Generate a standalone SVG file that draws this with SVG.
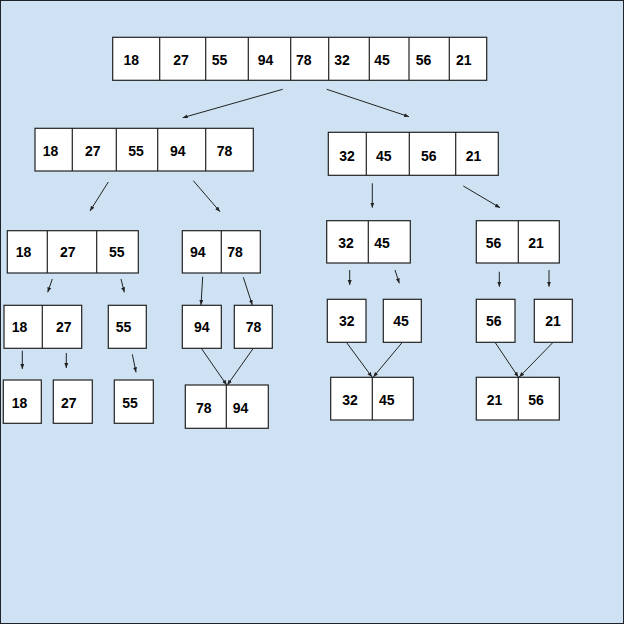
<svg xmlns="http://www.w3.org/2000/svg" width="624" height="624" viewBox="0 0 624 624">
<style>
.box{fill:#ffffff;stroke:#222222;stroke-width:1.2}
.div{stroke:#222222;stroke-width:1.2}
.t{font-family:"Liberation Sans",Arial,sans-serif;font-weight:bold;font-size:14px;fill:#000000}
.c{stroke:#222222;stroke-width:1;fill:none;marker-end:url(#ah)}
</style>
<defs>
<marker id="ah" markerUnits="userSpaceOnUse" markerWidth="6" markerHeight="5" refX="5" refY="2" orient="auto">
<path d="M0,0 L5,2 L0,4 z" fill="#222222"/>
</marker>
</defs>
<rect x="0.5" y="0.5" width="623" height="623" fill="#cfe2f3" stroke="#1f2226" stroke-width="1"/>

<g id="connectors">
<line class="c" x1="282.7" y1="89.3" x2="182.7" y2="117.7"/>
<line class="c" x1="326.7" y1="89.3" x2="409" y2="116.7"/>
<line class="c" x1="108.3" y1="182" x2="90" y2="211"/>
<line class="c" x1="193.3" y1="180.7" x2="220" y2="211.7"/>
<line class="c" x1="372.3" y1="183.3" x2="372.3" y2="207.7"/>
<line class="c" x1="463.3" y1="186" x2="500" y2="207.7"/>
<line class="c" x1="52.3" y1="279" x2="47.7" y2="292.3"/>
<line class="c" x1="121" y1="279" x2="124.3" y2="292.3"/>
<line class="c" x1="202.7" y1="276.7" x2="201" y2="305"/>
<line class="c" x1="243.3" y1="277.3" x2="252.3" y2="305"/>
<line class="c" x1="349.7" y1="270" x2="349.7" y2="285"/>
<line class="c" x1="395" y1="270" x2="399.3" y2="283.3"/>
<line class="c" x1="499.3" y1="271.7" x2="499.3" y2="286.7"/>
<line class="c" x1="549" y1="270" x2="549" y2="286.7"/>
<line class="c" x1="22.3" y1="350.7" x2="22.3" y2="369"/>
<line class="c" x1="66.3" y1="353" x2="66.3" y2="368"/>
<line class="c" x1="132.3" y1="354.3" x2="136" y2="372.3"/>
<line class="c" x1="201.3" y1="348.3" x2="226.7" y2="385"/>
<line class="c" x1="253.3" y1="348.3" x2="227.3" y2="385"/>
<line class="c" x1="346.7" y1="342.7" x2="372" y2="377"/>
<line class="c" x1="402" y1="342.7" x2="373.3" y2="377"/>
<line class="c" x1="495.3" y1="342.7" x2="518.3" y2="377"/>
<line class="c" x1="552.7" y1="342.7" x2="519.3" y2="377"/>
</g>

<g id="n_root">
<rect class="box" x="112.7" y="37.3" width="374" height="43"/>
<line class="div" x1="159.7" y1="37.3" x2="159.7" y2="80.3"/>
<line class="div" x1="205.7" y1="37.3" x2="205.7" y2="80.3"/>
<line class="div" x1="248.3" y1="37.3" x2="248.3" y2="80.3"/>
<line class="div" x1="290.7" y1="37.3" x2="290.7" y2="80.3"/>
<line class="div" x1="328.7" y1="37.3" x2="328.7" y2="80.3"/>
<line class="div" x1="369.3" y1="37.3" x2="369.3" y2="80.3"/>
<line class="div" x1="409" y1="37.3" x2="409" y2="80.3"/>
<line class="div" x1="449.3" y1="37.3" x2="449.3" y2="80.3"/>
<text class="t" x="123.5" y="65">18</text>
<text class="t" x="173.3" y="65">27</text>
<text class="t" x="211.7" y="65">55</text>
<text class="t" x="257.7" y="65">94</text>
<text class="t" x="296" y="65">78</text>
<text class="t" x="334.3" y="65">32</text>
<text class="t" x="374.3" y="65">45</text>
<text class="t" x="415.7" y="65">56</text>
<text class="t" x="456" y="65">21</text>
</g>

<g id="n_l">
<rect class="box" x="35" y="128.3" width="218.3" height="42.7"/>
<line class="div" x1="72.3" y1="128.3" x2="72.3" y2="171"/>
<line class="div" x1="116.3" y1="128.3" x2="116.3" y2="171"/>
<line class="div" x1="157.7" y1="128.3" x2="157.7" y2="171"/>
<line class="div" x1="205.7" y1="128.3" x2="205.7" y2="171"/>
<text class="t" x="42.7" y="155.5">18</text>
<text class="t" x="85" y="155.5">27</text>
<text class="t" x="128.3" y="155.5">55</text>
<text class="t" x="170" y="155.5">94</text>
<text class="t" x="216.7" y="155.5">78</text>
</g>

<g id="n_r">
<rect class="box" x="328.3" y="132.3" width="170" height="43"/>
<line class="div" x1="366.3" y1="132.3" x2="366.3" y2="175.3"/>
<line class="div" x1="409.3" y1="132.3" x2="409.3" y2="175.3"/>
<line class="div" x1="455.7" y1="132.3" x2="455.7" y2="175.3"/>
<text class="t" x="339.3" y="160.5">32</text>
<text class="t" x="376" y="160.5">45</text>
<text class="t" x="421" y="160.5">56</text>
<text class="t" x="465.7" y="160.5">21</text>
</g>

<g id="n_ll">
<rect class="box" x="7.3" y="230.7" width="131" height="42.3"/>
<line class="div" x1="47.3" y1="230.7" x2="47.3" y2="273"/>
<line class="div" x1="96.7" y1="230.7" x2="96.7" y2="273"/>
<text class="t" x="15.7" y="257.2">18</text>
<text class="t" x="60" y="257.2">27</text>
<text class="t" x="109" y="257.2">55</text>
</g>

<g id="n_lr">
<rect class="box" x="182.3" y="230.7" width="78" height="42.3"/>
<line class="div" x1="221.3" y1="230.7" x2="221.3" y2="273"/>
<text class="t" x="190" y="257.2">94</text>
<text class="t" x="227.3" y="257.2">78</text>
</g>

<g id="n_rl">
<rect class="box" x="326.7" y="220.7" width="83.6" height="42.3"/>
<line class="div" x1="368.3" y1="220.7" x2="368.3" y2="263"/>
<text class="t" x="338.3" y="247.8">32</text>
<text class="t" x="374.3" y="247.8">45</text>
</g>

<g id="n_rr">
<rect class="box" x="476.3" y="220.7" width="83" height="42.3"/>
<line class="div" x1="518.3" y1="220.7" x2="518.3" y2="263"/>
<text class="t" x="485.7" y="247.8">56</text>
<text class="t" x="528.3" y="247.8">21</text>
</g>

<g id="n_1827">
<rect class="box" x="4" y="305.3" width="77.7" height="43"/>
<line class="div" x1="42.3" y1="305.3" x2="42.3" y2="348.3"/>
<text class="t" x="11.7" y="332.2">18</text>
<text class="t" x="56" y="332.2">27</text>
</g>

<g id="n_55a">
<rect class="box" x="108.3" y="305.3" width="38" height="43"/>
<text class="t" x="115.7" y="332.2">55</text>
</g>

<g id="n_94a">
<rect class="box" x="182.3" y="305.3" width="39" height="43"/>
<text class="t" x="194" y="332.2">94</text>
</g>

<g id="n_78a">
<rect class="box" x="234.3" y="305.3" width="38" height="43"/>
<text class="t" x="245.7" y="332.2">78</text>
</g>

<g id="n_32a">
<rect class="box" x="327.3" y="299.3" width="38.7" height="43"/>
<text class="t" x="339" y="326.2">32</text>
</g>

<g id="n_45a">
<rect class="box" x="383.3" y="299.3" width="38" height="43"/>
<text class="t" x="393.3" y="326.2">45</text>
</g>

<g id="n_56a">
<rect class="box" x="476.3" y="299.3" width="38.7" height="43"/>
<text class="t" x="486" y="326.2">56</text>
</g>

<g id="n_21a">
<rect class="box" x="534.3" y="299.3" width="38" height="43"/>
<text class="t" x="545.3" y="326.2">21</text>
</g>

<g id="n_18b">
<rect class="box" x="3.3" y="380" width="38" height="43.3"/>
<text class="t" x="11.7" y="408.2">18</text>
</g>

<g id="n_27b">
<rect class="box" x="53.3" y="380" width="39" height="43.3"/>
<text class="t" x="61" y="408.2">27</text>
</g>

<g id="n_55b">
<rect class="box" x="114.3" y="380" width="39" height="43.3"/>
<text class="t" x="122.3" y="408.2">55</text>
</g>

<g id="n_7894">
<rect class="box" x="185.3" y="385" width="83" height="43.3"/>
<line class="div" x1="226.3" y1="385" x2="226.3" y2="428.3"/>
<text class="t" x="196" y="412.8">78</text>
<text class="t" x="232.7" y="412.8">94</text>
</g>

<g id="n_3245">
<rect class="box" x="330.7" y="377.3" width="82.6" height="42.7"/>
<line class="div" x1="372.3" y1="377.3" x2="372.3" y2="420"/>
<text class="t" x="342.3" y="404.5">32</text>
<text class="t" x="379" y="404.5">45</text>
</g>

<g id="n_2156">
<rect class="box" x="476.3" y="377.3" width="83" height="42.7"/>
<line class="div" x1="518.3" y1="377.3" x2="518.3" y2="420"/>
<text class="t" x="486.7" y="404.5">21</text>
<text class="t" x="528.3" y="404.5">56</text>
</g>
</svg>
